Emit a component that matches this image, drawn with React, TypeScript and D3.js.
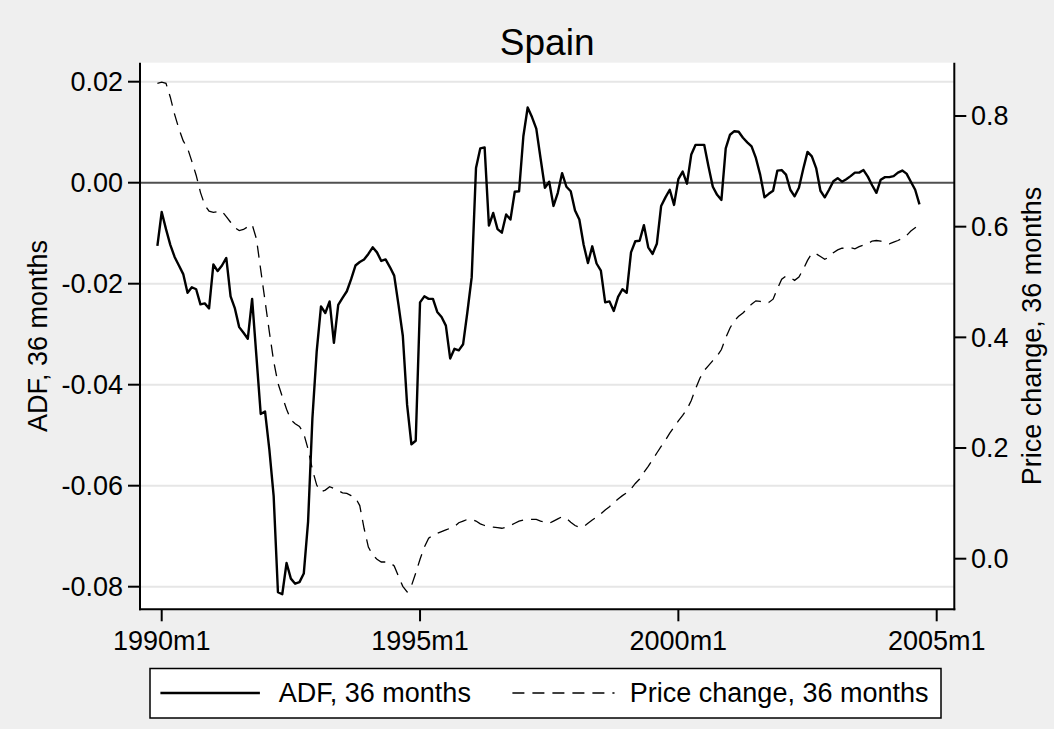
import React from "react";
import * as d3 from "d3";

// months since 1990m1 of the first observation (1989m12)
const startIndex = -1;

const adf = [
  -0.0125, -0.0058, -0.0092, -0.0123, -0.0147, -0.0164, -0.0181, -0.0218, -0.0207, -0.0211,
  -0.0241, -0.0239, -0.0249, -0.0162, -0.0175, -0.0164, -0.0149, -0.0225, -0.0249, -0.0286,
  -0.0297, -0.0309, -0.0230, -0.0344, -0.0458, -0.0453, -0.0528, -0.0620, -0.0811, -0.0815,
  -0.0753, -0.0784, -0.0794, -0.0791, -0.0774, -0.0671, -0.0467, -0.0334, -0.0245, -0.0258,
  -0.0235, -0.0317, -0.0242, -0.0228, -0.0215, -0.0191, -0.0164, -0.0157, -0.0152, -0.0141,
  -0.0128, -0.0138, -0.0155, -0.0152, -0.0167, -0.0184, -0.0242, -0.0303, -0.0440, -0.0518,
  -0.0511, -0.0237, -0.0225, -0.0230, -0.0230, -0.0256, -0.0266, -0.0283, -0.0348, -0.0329,
  -0.0332, -0.0320, -0.0256, -0.0187, 0.0029, 0.0068, 0.0070, -0.0085, -0.0060, -0.0092,
  -0.0099, -0.0063, -0.0073, -0.0018, -0.0017, 0.0092, 0.0149, 0.0130, 0.0107, 0.0048,
  -0.0010, 0.0002, -0.0046, -0.0020, 0.0019, -0.0008, -0.0017, -0.0055, -0.0073, -0.0123,
  -0.0159, -0.0126, -0.0160, -0.0174, -0.0237, -0.0235, -0.0254, -0.0226, -0.0211, -0.0218,
  -0.0138, -0.0116, -0.0115, -0.0084, -0.0128, -0.0141, -0.0121, -0.0046, -0.0029, -0.0014,
  -0.0044, 0.0007, 0.0022, -0.0002, 0.0056, 0.0075, 0.0075, 0.0075, 0.0032, -0.0008,
  -0.0024, -0.0034, 0.0068, 0.0095, 0.0102, 0.0101, 0.0089, 0.0080, 0.0072, 0.0049,
  0.0016, -0.0029, -0.0022, -0.0016, 0.0024, 0.0025, 0.0016, -0.0014, -0.0027, -0.0010,
  0.0027, 0.0061, 0.0052, 0.0029, -0.0016, -0.0029, -0.0014, 0.0003, 0.0009, 0.0002,
  0.0007, 0.0013, 0.0020, 0.0020, 0.0025, 0.0012, -0.0005, -0.0020, 0.0006, 0.0011,
  0.0011, 0.0013, 0.0020, 0.0024, 0.0018, 0.0002, -0.0014, -0.0043,
];

const priceChange = [
  0.859, 0.861, 0.859, 0.834, 0.803, 0.777, 0.755, 0.742, 0.718, 0.693,
  0.662, 0.639, 0.628, 0.626, 0.627, 0.628, 0.618, 0.608, 0.598, 0.593,
  0.595, 0.600, 0.604, 0.578, 0.522, 0.466, 0.410, 0.357, 0.317, 0.293,
  0.270, 0.251, 0.244, 0.239, 0.226, 0.198, 0.161, 0.133, 0.121, 0.124,
  0.130, 0.127, 0.123, 0.119, 0.118, 0.114, 0.110, 0.096, 0.055, 0.021,
  0.007, -0.001, -0.006, -0.006, -0.007, -0.013, -0.032, -0.050, -0.060, -0.049,
  -0.026, -0.001, 0.021, 0.037, 0.043, 0.046, 0.049, 0.052, 0.055, 0.058,
  0.065, 0.068, 0.071, 0.071, 0.068, 0.063, 0.060, 0.058, 0.057, 0.056,
  0.055, 0.057, 0.060, 0.064, 0.068, 0.070, 0.071, 0.071, 0.071, 0.068,
  0.066, 0.064, 0.068, 0.072, 0.076, 0.073, 0.066, 0.060, 0.057, 0.058,
  0.064, 0.070, 0.075, 0.081, 0.088, 0.094, 0.101, 0.108, 0.114, 0.119,
  0.126, 0.136, 0.144, 0.156, 0.167, 0.179, 0.191, 0.203, 0.214, 0.227,
  0.238, 0.249, 0.259, 0.270, 0.286, 0.307, 0.326, 0.340, 0.349, 0.358,
  0.366, 0.378, 0.399, 0.417, 0.430, 0.438, 0.444, 0.452, 0.460, 0.466,
  0.465, 0.462, 0.463, 0.469, 0.488, 0.505, 0.511, 0.508, 0.503, 0.509,
  0.523, 0.539, 0.552, 0.551, 0.546, 0.541, 0.545, 0.553, 0.558, 0.561,
  0.562, 0.562, 0.560, 0.564, 0.567, 0.569, 0.574, 0.575, 0.574, 0.571,
  0.569, 0.572, 0.575, 0.579, 0.584, 0.592, 0.598, 0.604,
];

const xTickValues = [0, 60, 120, 180];
const xTickLabels = ["1990m1", "1995m1", "2000m1", "2005m1"];
const leftTicks = [0.02, 0, -0.02, -0.04, -0.06, -0.08];
const rightTicks = [0, 0.2, 0.4, 0.6, 0.8];

const titleText = "Spain";
const leftTitle = "ADF, 36 months";
const rightTitle = "Price change, 36 months";

const FONT = "'Liberation Sans', Arial, Helvetica, sans-serif";

export default function App() {
  const W = 1054;
  const H = 729;
  const P = { left: 140, right: 954.3, top: 62.7, bottom: 609.3 };

  const x = d3.scaleLinear().domain([0, 180]).range([161.7, 936.7]);
  const yL = d3.scaleLinear().domain([-0.08, 0.02]).range([586.7, 81.7]);
  const yR = d3.scaleLinear().domain([0, 0.8]).range([558.7, 116]);

  const adfLine = d3
    .line<number>()
    .x((_, i) => x(startIndex + i))
    .y((d) => yL(d));
  const priceLine = d3
    .line<number>()
    .x((_, i) => x(startIndex + i))
    .y((d) => yR(d));

  const fmtL = (v: number) => d3.format(".2f")(v).replace("\u2212", "-");
  const fmtR = (v: number) => d3.format(".1f")(v).replace("\u2212", "-");
  const fs = 27;

  return (
    <svg
      width={W}
      height={H}
      style={{ position: "absolute", left: 0, top: 0, display: "block" }}
      fontFamily={FONT}
    >
      <rect x={0} y={0} width={W} height={H} fill="#efefef" />
      <rect x={P.left} y={P.top} width={P.right - P.left} height={P.bottom - P.top} fill="#ffffff" />

      {/* gridlines */}
      {leftTicks
        .filter((t) => t !== 0)
        .map((t) => (
          <line key={"g" + t} x1={P.left} x2={P.right} y1={yL(t)} y2={yL(t)} stroke="#e6e6e6" strokeWidth={2} />
        ))}
      {/* zero line */}
      <line x1={P.left} x2={P.right} y1={yL(0)} y2={yL(0)} stroke="#505050" strokeWidth={2} />

      {/* series */}
      <path d={priceLine(priceChange) || ""} fill="none" stroke="#000" strokeWidth={1.3} strokeDasharray="12,8" />
      <path d={adfLine(adf) || ""} fill="none" stroke="#000" strokeWidth={2.4} strokeLinejoin="round" />

      {/* axes */}
      <line x1={P.left} x2={P.left} y1={P.top} y2={P.bottom + 1} stroke="#000" strokeWidth={2} />
      <line x1={P.right} x2={P.right} y1={P.top} y2={P.bottom + 1} stroke="#000" strokeWidth={2} />
      <line x1={P.left - 1} x2={P.right + 1} y1={P.bottom} y2={P.bottom} stroke="#000" strokeWidth={2} />

      {leftTicks.map((t) => (
        <g key={"l" + t}>
          <line x1={P.left - 12} x2={P.left} y1={yL(t)} y2={yL(t)} stroke="#000" strokeWidth={2} />
          <text x={123} y={yL(t)} dy="0.35em" textAnchor="end" fontSize={fs} fill="#000">
            {fmtL(t)}
          </text>
        </g>
      ))}
      {rightTicks.map((t) => (
        <g key={"r" + t}>
          <line x1={P.right} x2={P.right + 12} y1={yR(t)} y2={yR(t)} stroke="#000" strokeWidth={2} />
          <text x={971} y={yR(t)} dy="0.35em" textAnchor="start" fontSize={fs} fill="#000">
            {fmtR(t)}
          </text>
        </g>
      ))}
      {xTickValues.map((t, i) => (
        <g key={"x" + t}>
          <line x1={x(t)} x2={x(t)} y1={P.bottom} y2={P.bottom + 12} stroke="#000" strokeWidth={2} />
          <text x={x(t)} y={650} textAnchor="middle" fontSize={fs} fill="#000">
            {xTickLabels[i]}
          </text>
        </g>
      ))}

      {/* axis titles */}
      <text transform={`translate(47,${(P.top + P.bottom) / 2}) rotate(-90)`} textAnchor="middle" fontSize={fs} fill="#000">
        {leftTitle}
      </text>
      <text transform={`translate(1041,${(P.top + P.bottom) / 2}) rotate(-90)`} textAnchor="middle" fontSize={fs} fill="#000">
        {rightTitle}
      </text>

      {/* title */}
      <text x={(P.left + P.right) / 2} y={55} textAnchor="middle" fontSize={37} fill="#000">
        {titleText}
      </text>

      {/* legend */}
      <rect x={150} y={668.5} width={791} height={49.5} fill="#fff" stroke="#000" strokeWidth={1.5} />
      <line x1={160.4} x2={259.9} y1={693} y2={693} stroke="#000" strokeWidth={2.4} />
      <text x={278.8} y={693} dy="0.35em" fontSize={fs} fill="#000">
        {leftTitle}
      </text>
      <line x1={512.4} x2={614.5} y1={693} y2={693} stroke="#000" strokeWidth={1.3} strokeDasharray="12,8" />
      <text x={629.8} y={693} dy="0.35em" fontSize={fs} fill="#000">
        {rightTitle}
      </text>
    </svg>
  );
}
